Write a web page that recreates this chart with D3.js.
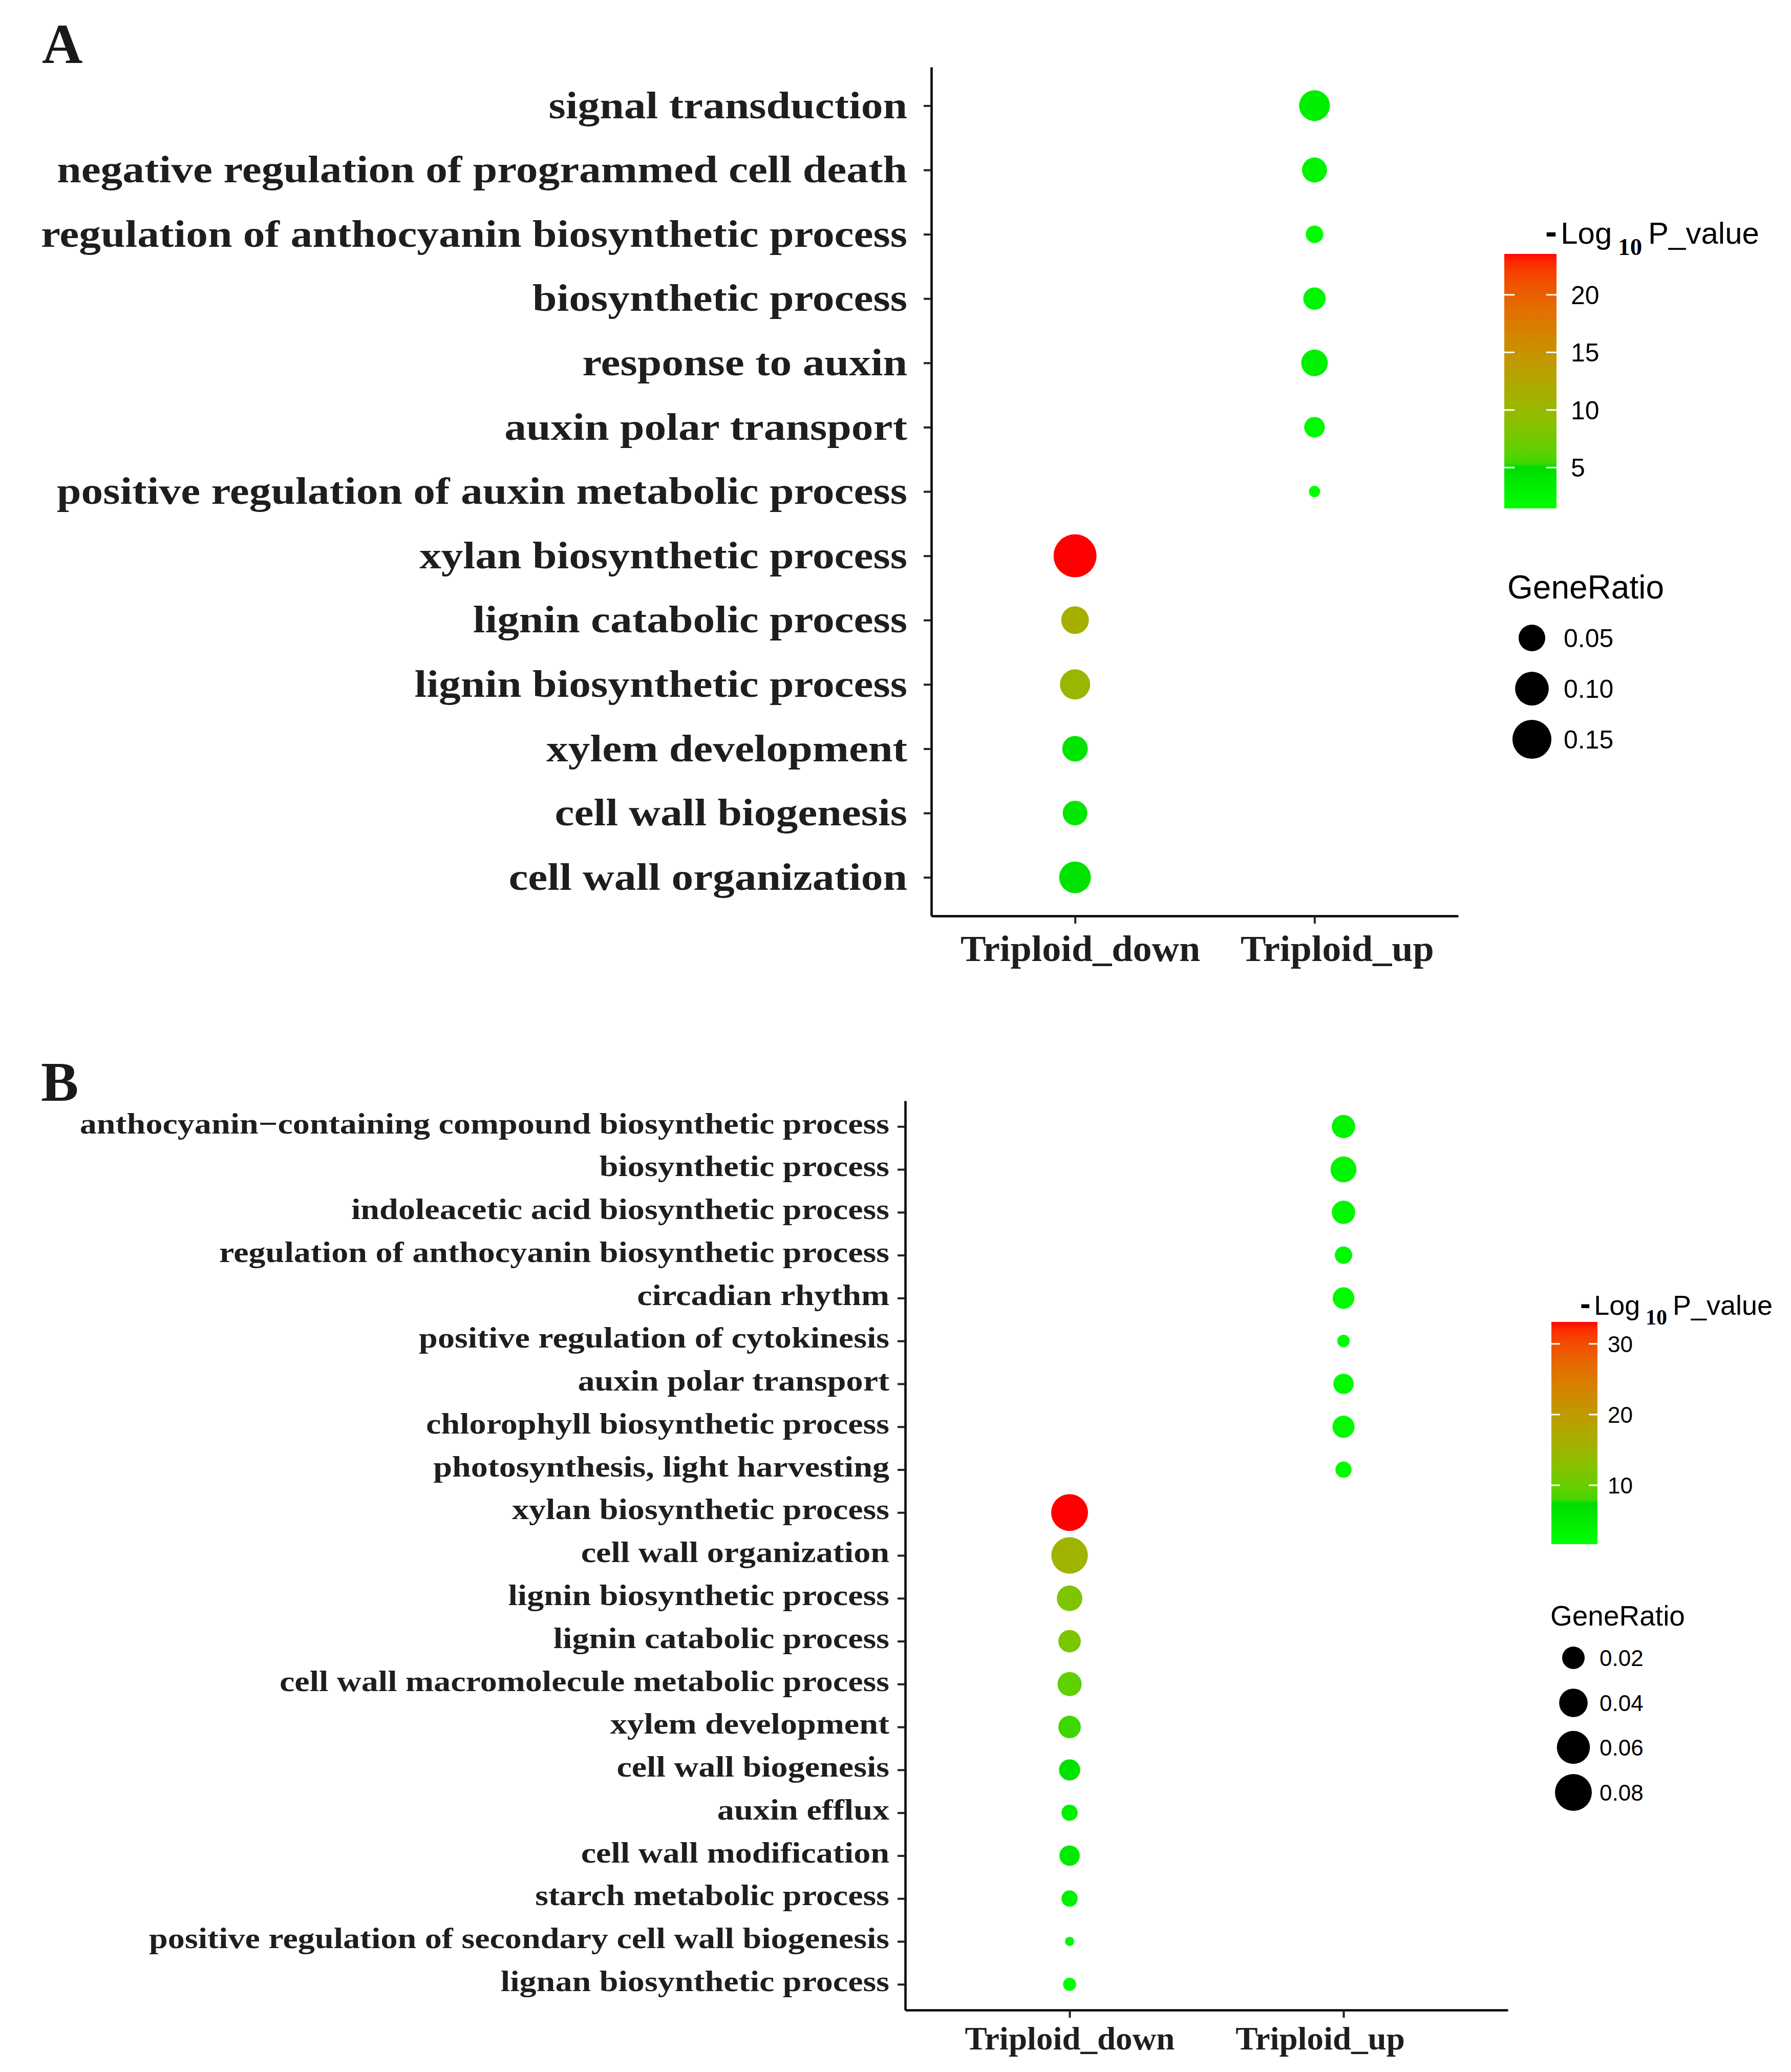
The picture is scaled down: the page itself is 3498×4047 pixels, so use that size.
<!DOCTYPE html>
<html>
<head>
<meta charset="utf-8">
<script src="https://cdn.jsdelivr.net/npm/d3@7"></script>
<style>
body { margin: 0; background: #fff; }
svg { display: block; }
</style>
</head>
<body>
<svg id="fig" width="3498" height="4047"></svg>
<script>
// x categories, shared by both panels
var groups = ["Triploid_down", "Triploid_up"];

// panel A (top to bottom)
var termsA = ["signal transduction", "negative regulation of programmed cell death",
  "regulation of anthocyanin biosynthetic process", "biosynthetic process", "response to auxin",
  "auxin polar transport", "positive regulation of auxin metabolic process",
  "xylan biosynthetic process", "lignin catabolic process", "lignin biosynthetic process",
  "xylem development", "cell wall biogenesis", "cell wall organization"];
var groupA = ["Triploid_up", "Triploid_up", "Triploid_up", "Triploid_up", "Triploid_up", "Triploid_up", "Triploid_up",
  "Triploid_down", "Triploid_down", "Triploid_down", "Triploid_down", "Triploid_down", "Triploid_down"];
var ratioA = [0.077, 0.041, 0.013, 0.029, 0.050, 0.022, 0.0055, 0.195, 0.056, 0.073, 0.044, 0.039, 0.084];
var logpA = [3.2, 2.6, 1.8, 2.4, 3.0, 2.0, 1.45, 23.55, 11.5, 10.4, 4.2, 3.9, 4.5];
var colorTicksA = [5, 10, 15, 20];
var sizeBreaksA = [0.05, 0.10, 0.15];

// panel B (top to bottom)
var termsB = ["anthocyanin\u2212containing compound biosynthetic process", "biosynthetic process",
  "indoleacetic acid biosynthetic process", "regulation of anthocyanin biosynthetic process",
  "circadian rhythm", "positive regulation of cytokinesis", "auxin polar transport",
  "chlorophyll biosynthetic process", "photosynthesis, light harvesting",
  "xylan biosynthetic process", "cell wall organization", "lignin biosynthetic process",
  "lignin catabolic process", "cell wall macromolecule metabolic process", "xylem development",
  "cell wall biogenesis", "auxin efflux", "cell wall modification", "starch metabolic process",
  "positive regulation of secondary cell wall biogenesis", "lignan biosynthetic process"];
var groupB = ["Triploid_up", "Triploid_up", "Triploid_up", "Triploid_up", "Triploid_up", "Triploid_up",
  "Triploid_up", "Triploid_up", "Triploid_up",
  "Triploid_down", "Triploid_down", "Triploid_down", "Triploid_down", "Triploid_down", "Triploid_down",
  "Triploid_down", "Triploid_down", "Triploid_down", "Triploid_down", "Triploid_down", "Triploid_down"];
var ratioB = [0.0223, 0.0304, 0.0223, 0.0088, 0.0176, 0.0029, 0.0146, 0.0189, 0.0069,
  0.080, 0.0783, 0.029, 0.020, 0.0247, 0.020, 0.0166, 0.0069, 0.0146, 0.0069, 0.0019, 0.0035];
var logpB = [3.5, 3.2, 3.0, 2.8, 2.5, 2.2, 2.4, 2.3, 1.9,
  33.1, 15.5, 12.0, 11.5, 9.5, 7.9, 6.5, 4.0, 5.0, 3.8, 2.5, 1.67];
var colorTicksB = [10, 20, 30];
var sizeBreaksB = [0.02, 0.04, 0.06, 0.08];

var SERIF = "'Liberation Serif', 'Times New Roman', serif";
var SANS = "'Liberation Sans', Arial, sans-serif";

var svg = d3.select("#fig");
var defs = svg.append("defs");

function panel(c) {
  var g = svg.append("g");
  var n = c.terms.length;

  var x = d3.scalePoint().domain(groups).range([c.left, c.right]).padding(0.6);
  var y = d3.scalePoint().domain(c.terms).range([c.top, c.bottom]).padding(0.6);

  var lo = d3.min(c.logp), hi = d3.max(c.logp);
  var color = d3.scaleLinear()
    .domain([lo, c.knee[0], c.knee[1], hi])
    .range(["#00ff00", "#00dc00", "#3fd700", "#ff0000"])
    .interpolate(d3.interpolateLab)
    .clamp(true);

  // ggplot style area scale: smallest ratio -> r0, largest -> r1
  var rmin = d3.min(c.ratio), rmax = d3.max(c.ratio);
  var size = d3.scaleSqrt().domain([0, rmax - rmin]).range(c.rRange);
  function rad(v) { return size(Math.max(0, v - rmin)); }

  // panel letter
  g.append("text").attr("x", c.letterX).attr("y", c.letterY)
    .attr("font-family", SERIF).attr("font-weight", "bold").attr("font-size", 110)
    .attr("fill", "#1a1a1a").text(c.letter);

  // y axis
  var ya = g.append("g").attr("transform", "translate(" + c.left + ",0)")
    .call(d3.axisLeft(y).tickSize(15).tickSizeOuter(0));
  ya.attr("font-family", SERIF).attr("font-size", c.yFont).attr("font-weight", "bold");
  ya.select(".domain").attr("stroke", "#000").attr("stroke-width", 4.5);
  ya.selectAll(".tick line").attr("stroke", "#222").attr("stroke-width", 4);
  ya.selectAll(".tick text").attr("x", 0).attr("dy", c.yDy).attr("fill", "#1e1e1e")
    .attr("transform", "translate(" + (-c.yPad) + ",0) scale(" + c.yKx + ",1)");

  // x axis
  var xa = g.append("g").attr("transform", "translate(0," + c.bottom + ")")
    .call(d3.axisBottom(x).tickSize(15).tickSizeOuter(0));
  xa.attr("font-family", SERIF).attr("font-size", c.xFont).attr("font-weight", "bold");
  xa.select(".domain").attr("stroke", "#000").attr("stroke-width", 4.5);
  xa.selectAll(".tick line").attr("stroke", "#222").attr("stroke-width", 4);
  xa.selectAll(".tick text").attr("y", 0).attr("dy", 0).attr("fill", "#1e1e1e")
    .attr("transform", function(d, i) {
      return "translate(" + c.xShift[i] + "," + c.xBase + ") scale(" + c.xKx + ",1)";
    });

  // dots
  g.append("g").selectAll("circle")
    .data(d3.range(n))
    .join("circle")
    .attr("cx", function(i) { return x(c.group[i]); })
    .attr("cy", function(i) { return y(c.terms[i]); })
    .attr("r", function(i) { return rad(c.ratio[i]); })
    .attr("fill", function(i) { return color(c.logp[i]); });

  // colour bar legend
  var f = c.titleFont;
  var title = g.append("text").attr("x", c.titleX).attr("y", c.titleY)
    .attr("font-family", SANS).attr("font-size", f).attr("fill", "#000");
  title.append("tspan").attr("font-weight", "bold").attr("font-size", f * 1.15).text("-");
  title.append("tspan").attr("dx", f * 0.12).text("Log");
  title.append("tspan").attr("dx", f * 0.2).attr("dy", f * 0.36)
    .attr("font-family", SERIF).attr("font-weight", "bold").attr("font-size", f * 0.78).text("10");
  title.append("tspan").attr("dx", f * 0.2).attr("dy", -f * 0.36).text("P_value");

  var grad = defs.append("linearGradient").attr("id", "grad" + c.letter)
    .attr("x1", 0).attr("y1", 1).attr("x2", 0).attr("y2", 0);
  grad.selectAll("stop").data(d3.range(0, 201)).join("stop")
    .attr("offset", function(k) { return k / 200; })
    .attr("stop-color", function(k) { return color(lo + (hi - lo) * k / 200); });

  var cb = d3.scaleLinear().domain([lo, hi]).range([c.barBottom, c.barTop]);
  g.append("rect").attr("x", c.barX).attr("y", c.barTop)
    .attr("width", c.barW).attr("height", c.barBottom - c.barTop)
    .attr("fill", "url(#grad" + c.letter + ")");
  var tk = g.append("g").selectAll("g").data(c.colorTicks).join("g")
    .attr("transform", function(t) { return "translate(0," + cb(t) + ")"; });
  tk.append("line").attr("x1", c.barX).attr("x2", c.barX + c.tickLen)
    .attr("stroke", "#fff").attr("stroke-width", 3);
  tk.append("line").attr("x1", c.barX + c.barW - c.tickLen).attr("x2", c.barX + c.barW)
    .attr("stroke", "#fff").attr("stroke-width", 3);
  tk.append("text").attr("x", c.tickLabelX).attr("dy", "0.36em")
    .attr("font-family", SANS).attr("font-size", c.labelFont).attr("fill", "#000")
    .text(function(t) { return t; });

  // size legend
  g.append("text").attr("x", c.sizeTitleX).attr("y", c.sizeTitleY)
    .attr("font-family", SANS).attr("font-size", c.sizeTitleFont).attr("fill", "#000")
    .text("GeneRatio");
  var key = g.append("g").selectAll("g").data(c.sizeBreaks).join("g")
    .attr("transform", function(v, i) { return "translate(0," + c.keyY[i] + ")"; });
  key.append("circle").attr("cx", c.keyX).attr("r", function(v) { return rad(v); }).attr("fill", "#000");
  key.append("text").attr("x", c.keyLabelX).attr("dy", "0.36em")
    .attr("font-family", SANS).attr("font-size", c.labelFont).attr("fill", "#000")
    .text(d3.format(".2f"));
}

panel({
  letter: "A", letterX: 82, letterY: 123,
  terms: termsA, group: groupA, ratio: ratioA, logp: logpA,
  colorTicks: colorTicksA, sizeBreaks: sizeBreaksA,
  left: 1819, right: 2848, top: 131, bottom: 1789,
  yFont: 74, yKx: 1.155, yPad: 47, yDy: "0.32em",
  xFont: 72, xKx: 1.03, xBase: 88, xShift: [10, 44],
  knee: [5.1, 5.4], rRange: [11, 42],
  titleX: 3018, titleY: 476, titleFont: 60, labelFont: 50, sizeTitleFont: 64,
  barX: 2938, barW: 102, barTop: 496, barBottom: 993, tickLen: 20, tickLabelX: 3068,
  sizeTitleX: 2944, sizeTitleY: 1169, keyX: 2992, keyY: [1246, 1345, 1444], keyLabelX: 3054
});

panel({
  letter: "B", letterX: 80, letterY: 2150,
  terms: termsB, group: groupB, ratio: ratioB, logp: logpB,
  colorTicks: colorTicksB, sizeBreaks: sizeBreaksB,
  left: 1768, right: 2945, top: 2150, bottom: 3926,
  yFont: 58, yKx: 1.14, yPad: 31, yDy: "0.22em",
  xFont: 63, xKx: 1.03, xBase: 77, xShift: [0, -46],
  knee: [7.6, 7.9], rRange: [9, 36],
  titleX: 3086, titleY: 2568, titleFont: 54, labelFont: 44, sizeTitleFont: 55,
  barX: 3030, barW: 90, barTop: 2582, barBottom: 3016, tickLen: 17, tickLabelX: 3140,
  sizeTitleX: 3028, sizeTitleY: 3175, keyX: 3073, keyY: [3238, 3326, 3413, 3501], keyLabelX: 3124
});
</script>
</body>
</html>
